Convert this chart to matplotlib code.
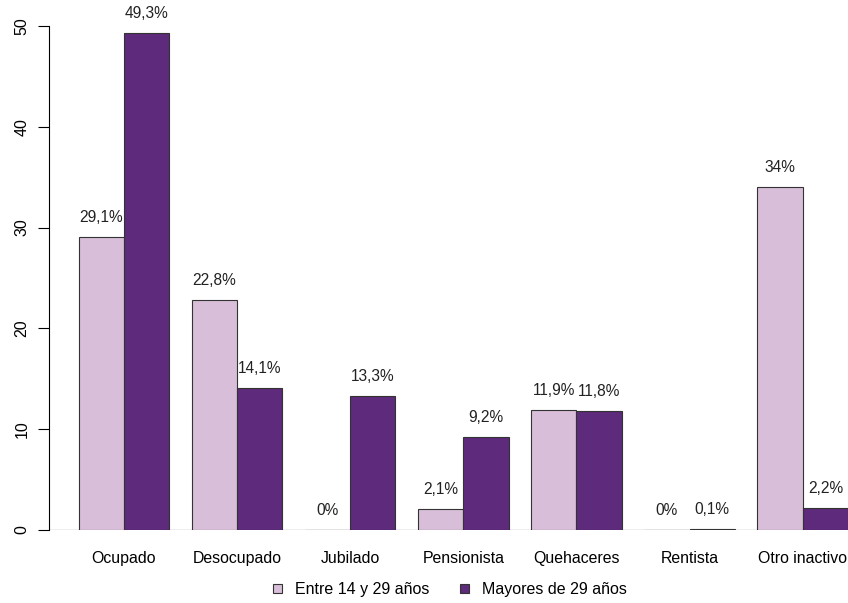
import numpy as np
import matplotlib
matplotlib.use('Agg')
import matplotlib.pyplot as plt
from matplotlib.patches import Patch

plt.rcParams.update({
    'font.family': ['Liberation Sans', 'DejaVu Sans'],
    'font.size': 10,
})

categorias = ['Ocupado', 'Desocupado', 'Jubilado', 'Pensionista',
              'Quehaceres', 'Rentista', 'Otro inactivo']
jovenes = [29.1, 22.8, 0.0, 2.1, 11.9, 0.0, 34.0]
mayores = [49.3, 14.1, 13.3, 9.2, 11.8, 0.1, 2.2]
etiq_jovenes = ['29,1%', '22,8%', '0%', '2,1%', '11,9%', '0%', '34%']
etiq_mayores = ['49,3%', '14,1%', '13,3%', '9,2%', '11,8%', '0,1%', '2,2%']
series = ['Entre 14 y 29 años', 'Mayores de 29 años']

COLOR_CLARO = '#D8BED8'
COLOR_OSCURO = '#5E2A7B'
BORDE = '#333333'

W, H = 848, 603
fig = plt.figure(figsize=(W / 100, H / 100), dpi=100)
# ejes colocados en píxeles como en el original (eje y en x=49, 0 en y=530)
ax = fig.add_axes([49 / W, (H - 530) / H, (848 - 49) / W, (530 - 26) / H])

# estilo barplot de R: ancho 1, espacio 0.5 entre grupos
paso = 2.5
x = np.arange(len(categorias)) * paso
ax.bar(x, jovenes, width=1, align='edge', color=COLOR_CLARO,
       edgecolor=BORDE, linewidth=0.8, zorder=3)
ax.bar(x + 1, mayores, width=1, align='edge', color=COLOR_OSCURO,
       edgecolor=BORDE, linewidth=0.8, zorder=3)

# línea base gris
ax.axhline(0, color='#AAAAAA', linewidth=1.0, zorder=2)

# etiquetas de valor
for xi, v, t in zip(x + 0.5, jovenes, etiq_jovenes):
    ax.text(xi, v + 1.95, t, ha='center', va='center', fontsize=11.2,
            color='#222222', clip_on=False)
for xi, v, t in zip(x + 1.5, mayores, etiq_mayores):
    ax.text(xi, v + 1.95, t, ha='center', va='center', fontsize=11.2,
            color='#222222', clip_on=False)

ax.set_xlim(-(78.7 - 49) / 45.27, len(categorias) * paso - 0.5)
ax.set_ylim(0, 50)

ax.set_xticks(x + 1, categorias)
ax.tick_params(axis='x', length=0, pad=15, labelsize=11.4)
ax.set_yticks([0, 10, 20, 30, 40, 50])
ax.tick_params(axis='y', length=8, pad=6, labelsize=11.5, width=0.8)
for lab in ax.get_yticklabels():
    lab.set_rotation(90)
    lab.set_va('center')

for s in ['top', 'right', 'bottom']:
    ax.spines[s].set_visible(False)
ax.spines['left'].set_linewidth(0.8)

handles = [Patch(facecolor=COLOR_CLARO, edgecolor=BORDE, linewidth=0.8),
           Patch(facecolor=COLOR_OSCURO, edgecolor=BORDE, linewidth=0.8)]
fig.legend(handles, series, loc='center', bbox_to_anchor=(0.531, 0.022),
           ncol=2, frameon=False, fontsize=11.5, handlelength=0.55,
           handleheight=0.55, handletextpad=0.83, columnspacing=1.9)

fig.savefig('out.png', dpi=100)
